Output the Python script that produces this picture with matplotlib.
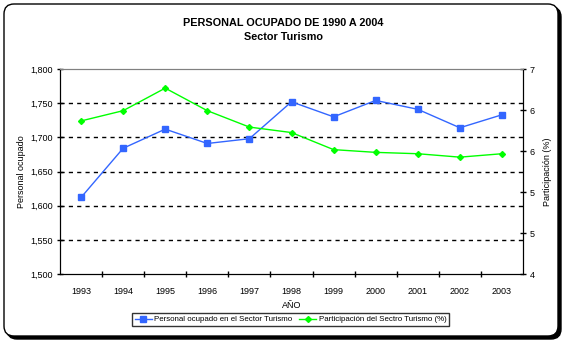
import matplotlib
matplotlib.use("Agg")
import matplotlib.pyplot as plt
from matplotlib.patches import FancyBboxPatch
from matplotlib.transforms import IdentityTransform
from matplotlib.ticker import FuncFormatter

plt.rcParams['font.family'] = ['Liberation Sans', 'DejaVu Sans']

years = ['1993', '1994', '1995', '1996', '1997', '1998', '1999', '2000', '2001', '2002', '2003']
personal = [1612, 1684, 1712, 1691, 1698, 1752, 1730, 1754, 1741, 1714, 1733]
participacion = [6.24, 6.39, 6.72, 6.39, 6.15, 6.07, 5.82, 5.78, 5.76, 5.71, 5.76]
left_ticks = [1500, 1550, 1600, 1650, 1700, 1750, 1800]
right_ticks = [4.0, 4.6, 5.2, 5.8, 6.4, 7.0]

fig = plt.figure(figsize=(5.66, 3.46), dpi=100)

# rounded frame with shadow (pixel coords), kept behind the axes
shadow = FancyBboxPatch((7, 7), 554, 332, boxstyle="round,pad=0,rounding_size=10",
                        transform=IdentityTransform(), facecolor='black', edgecolor='black',
                        lw=1, zorder=-2)
frame = FancyBboxPatch((4, 10), 554, 332, boxstyle="round,pad=0,rounding_size=10",
                       transform=IdentityTransform(), facecolor='white', edgecolor='black',
                       lw=1, zorder=-1)
fig.patches.append(shadow)
fig.patches.append(frame)

ax = fig.add_axes([60 / 566, 1 - 274 / 346, 463 / 566, 205 / 346])
ax.set_facecolor('white')
x = list(range(len(years)))

for v in left_ticks[1:-1]:
    ax.axhline(v, color='black', lw=1, linestyle=(0, (3, 3)), zorder=1)

ax.plot(x, personal, color='#3366ff', marker='s', markersize=4, lw=1, zorder=3,
        label='Personal ocupado en el Sector Turismo')
ax.set_xlim(-0.5, len(years) - 0.5)
ax.set_ylim(1500, 1800)
ax.set_yticks(left_ticks)
ax.yaxis.set_major_formatter(FuncFormatter(lambda v, p: '{:,.0f}'.format(v)))
ax.set_xticks(x)
ax.set_xticklabels(years)
ax.set_xticks([i + 0.5 for i in x[:-1]], minor=True)
ax.tick_params(axis='x', which='major', length=0, pad=9, labelsize=6.5)
ax.tick_params(axis='x', which='minor', length=5, direction='inout', width=1)
ax.tick_params(axis='y', length=4, direction='inout', width=1, labelsize=6.5, pad=3)
ax.set_xlabel('AÑO', fontsize=6.5, labelpad=4)
ax.set_ylabel('Personal ocupado', fontsize=6.5, labelpad=3)

ax2 = ax.twinx()
ax2.plot(x, participacion, color='#00ff00', marker='D', markersize=3, lw=1, zorder=3,
         label='Participación del Sectro Turismo (%)')
ax2.set_ylim(4, 7)
ax2.set_yticks(right_ticks)
ax2.yaxis.set_major_formatter(FuncFormatter(lambda v, p: '{:.0f}'.format(v)))
ax2.tick_params(axis='y', length=4, direction='inout', width=1, labelsize=6.5, pad=3)
ax2.set_ylabel('Participación (%)', fontsize=6.5, labelpad=6)

for a in (ax, ax2):
    a.spines['top'].set_color('#808080')
    a.spines['left'].set_color('black')
    a.spines['right'].set_color('black')
    a.spines['bottom'].set_color('black')

fig.text(0.5, 1 - 23 / 346, 'PERSONAL OCUPADO DE 1990 A 2004', ha='center', va='center',
         fontsize=7.8, fontweight='bold')
fig.text(0.5, 1 - 37 / 346, 'Sector Turismo', ha='center', va='center',
         fontsize=7.8, fontweight='bold')

h1, l1 = ax.get_legend_handles_labels()
h2, l2 = ax2.get_legend_handles_labels()
leg = fig.legend(h1 + h2, l1 + l2, loc='center', bbox_to_anchor=(290.5 / 566, 1 - 319.5 / 346),
                 ncol=2, fontsize=5.7, frameon=True, fancybox=False, borderpad=0.3,
                 handlelength=2.2, handletextpad=0.3, columnspacing=0.8)
leg.get_frame().set_edgecolor('black')
leg.get_frame().set_linewidth(1)

fig.savefig('out.png', dpi=100)
